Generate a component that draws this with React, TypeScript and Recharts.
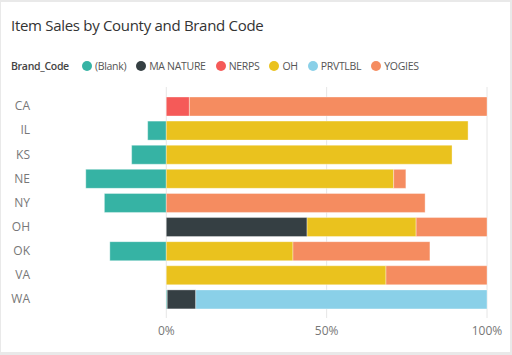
import React from 'react';
import { BarChart, Bar, XAxis, YAxis, CartesianGrid } from 'recharts';

const counties = ['CA', 'IL', 'KS', 'NE', 'NY', 'OH', 'OK', 'VA', 'WA'];
const blank = [0, -5.8, -10.8, -25.1, -19.3, 0, -17.6, 0, 0.3];
const maNature = [0, 0, 0, 0, 0, 43.9, 0, 0, 8.9];
const nerps = [7.2, 0, 0, 0, 0, 0, 0, 0, 0];
const oh = [0, 94.1, 89.1, 70.9, 0, 34.0, 39.5, 68.5, 0];
const prvtlbl = [0, 0, 0, 0, 0, 0, 0, 0, 90.8];
const yogies = [92.8, 0, 0, 3.8, 80.7, 22.1, 42.7, 31.5, 0];

const xTicks = [0, 50, 100];

const series = [
  { key: 'blank', name: '(Blank)', color: '#36b3a4', values: blank },
  { key: 'maNature', name: 'MA NATURE', color: '#353f43', values: maNature },
  { key: 'nerps', name: 'NERPS', color: '#f55a58', values: nerps },
  { key: 'oh', name: 'OH', color: '#eac21e', values: oh },
  { key: 'prvtlbl', name: 'PRVTLBL', color: '#8ad0e8', values: prvtlbl },
  { key: 'yogies', name: 'YOGIES', color: '#f58c60', values: yogies },
];

const data = counties.map((c, i) => {
  const row: Record<string, string | number> = { county: c };
  series.forEach((s) => {
    row[s.key] = s.values[i];
  });
  return row;
});

const font = '"Open Sans", "Noto Sans", sans-serif';

export default function App() {
  return (
    <div
      style={{
        position: 'fixed',
        left: 0,
        top: 0,
        width: 512,
        height: 355,
        background: '#e9e9e9',
        fontFamily: font,
      }}
    >
      <div
        style={{
          position: 'absolute',
          left: 1,
          top: 2,
          width: 509,
          height: 350,
          background: '#fff',
        }}
      />
      {/* title */}
      <div
        style={{
          position: 'absolute',
          left: 11,
          top: 15,
          fontSize: 15,
          letterSpacing: -0.3,
          color: '#333',
          whiteSpace: 'nowrap',
        }}
      >
        Item Sales by County and Brand Code
      </div>

      {/* legend */}
      <div
        style={{
          position: 'absolute',
          left: 11,
          top: 59,
          display: 'flex',
          alignItems: 'center',
          fontSize: 10.5,
          letterSpacing: -0.3,
          color: '#555',
          whiteSpace: 'nowrap',
        }}
      >
        <span style={{ fontWeight: 600, color: '#444', marginRight: 13 }}>Brand_Code</span>
        {series.map((s) => (
          <span key={s.key} style={{ display: 'flex', alignItems: 'center', marginRight: 10 }}>
            <span
              style={{
                width: 10,
                height: 10,
                borderRadius: 5,
                background: s.color,
                marginRight: 3,
                display: 'inline-block',
              }}
            />
            {s.name}
          </span>
        ))}
      </div>

      <div style={{ position: 'absolute', left: 0, top: 0 }}>
        <BarChart
          width={512}
          height={355}
          data={data}
          layout="vertical"
          stackOffset="sign"
          barSize={19}
          margin={{ top: 87, right: 25, left: 0, bottom: 7 }}
        >
          <CartesianGrid horizontal={false} stroke="#e6e6e6" syncWithTicks />
          <XAxis
            type="number"
            domain={[-40, 100]}
            ticks={xTicks}
            tickFormatter={(v: number) => `${v}%`}
            axisLine={false}
            tickLine={false}
            height={30}
            tick={{ fontSize: 12, fill: '#777', fontFamily: font }}
          />
          <YAxis
            type="category"
            dataKey="county"
            width={38}
            axisLine={false}
            tickLine={false}
            padding={{ top: 7, bottom: 7 }}
            tick={{ fontSize: 12, fill: '#777', fontFamily: font }}
          />
          {series.map((s) => (
            <Bar
              key={s.key}
              dataKey={s.key}
              name={s.name}
              stackId="a"
              fill={s.color}
              stroke="#ffffff"
              strokeOpacity={0.35}
              isAnimationActive={false}
            />
          ))}
        </BarChart>
      </div>
    </div>
  );
}
